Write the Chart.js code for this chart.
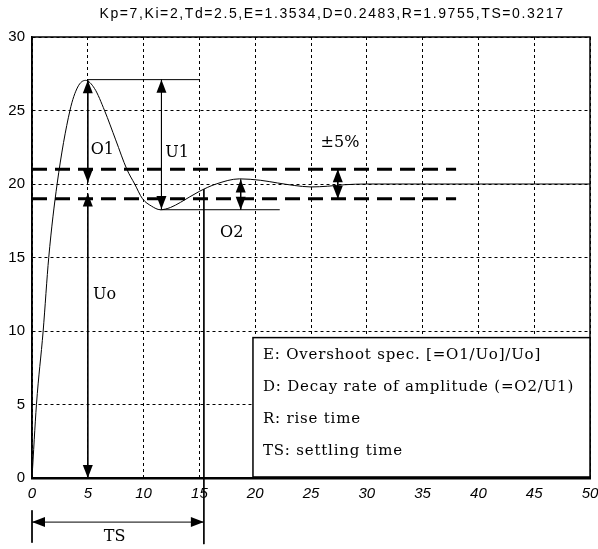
<!DOCTYPE html>
<html>
<head>
<meta charset="utf-8">
<script src="https://cdn.jsdelivr.net/npm/chart.js@4.4.0/dist/chart.umd.min.js"></script>
<style>
  html, body { margin: 0; padding: 0; background: #fff; }
  #wrap { width: 598px; height: 549px; }
</style>
</head>
<body>
<div id="wrap"><canvas id="chart"></canvas></div>
<script>
const titleText = 'Kp=7,Ki=2,Td=2.5,E=1.3534,D=0.2483,R=1.9755,TS=0.3217';

// step response
const timeS = [0, 0.4, 1.0, 1.5, 2.25, 3.4, 4.1, 4.8, 5.6, 6.5, 7.5, 8.5, 9.2, 9.9, 10.7, 11.5, 12.4, 13.3, 15, 16.5, 18.6, 20.5, 22, 23.5, 25, 26.5, 28, 30, 35, 40, 45, 50];
const response = [0, 5, 10, 15, 20, 25, 26.6, 27.05, 26.5, 25, 23, 21, 20, 19, 18.5, 18.25, 18.4, 18.75, 19.5, 20.0, 20.35, 20.25, 20.07, 19.9, 19.8, 19.85, 19.95, 20.0, 20.0, 20.0, 20.0, 20.0];

// +-5% band round the final value 20
const bandLevels = [21, 19];
const bandEnd = 38;

// thin guide lines [x1, y1, x2, y2]
const guideLines = [
  [5, 27.1, 15, 27.1],      // peak level
  [11.5, 18.25, 22.2, 18.25], // first trough level
  [15.4, 19.65, 15.4, -4.5],  // settling time marker
  [0, -2.2, 0, -4.4]          // start of TS span
];

// double headed arrows [x1, y1, x2, y2]
const arrows = [
  [5, 27.05, 5, 20.1],     // O1
  [5, 19.35, 5, 0],        // Uo
  [11.6, 27.1, 11.6, 18.3], // U1
  [18.7, 20.3, 18.7, 18.25], // O2
  [27.4, 21, 27.4, 19],    // +-5%
  [0, -3, 15.4, -3]        // TS
];

// labels [text, x, y]
const labels = [
  ['O1', 6.3, 22.3],
  ['U1', 13.0, 22.1],
  ['O2', 17.9, 16.7],
  ['Uo', 6.5, 12.45],
  ['±5%', 27.6, 22.8],
  ['TS', 7.4, -4.0]
];

// explanation box
const boxX = [19.8, 50];
const boxY = [0.07, 9.55];
const boxLines = [
  ['E: Overshoot spec. [=O1/Uo]/Uo]', 8.35],
  ['D: Decay rate of amplitude (=O2/U1)', 6.2],
  ['R: rise time', 4.0],
  ['TS: settling time', 1.8]
];

const lineSet = (pts, width, dash) => ({
  data: pts,
  borderColor: '#000',
  borderWidth: width,
  borderDash: dash || [],
  pointRadius: 0,
  fill: false,
  clip: false
});

const datasets = [];
datasets.push(Object.assign(lineSet(timeS.map((t, i) => ({x: t, y: response[i]})), 1), {cubicInterpolationMode: 'monotone'}));
bandLevels.forEach(v => datasets.push(lineSet([{x: 0, y: v}, {x: bandEnd, y: v}], 3, [15, 8])));
guideLines.forEach(g => datasets.push(lineSet([{x: g[0], y: g[1]}, {x: g[2], y: g[3]}], 1)));
arrows.forEach(a => datasets.push(lineSet([{x: a[0], y: a[1]}, {x: a[2], y: a[3]}], 1)));

function arrowHead(ctx, tx, ty, fx, fy) {
  const ang = Math.atan2(ty - fy, tx - fx);
  const len = 13, half = 5;
  ctx.beginPath();
  ctx.moveTo(tx, ty);
  ctx.lineTo(tx - len * Math.cos(ang) + half * Math.sin(ang), ty - len * Math.sin(ang) - half * Math.cos(ang));
  ctx.lineTo(tx - len * Math.cos(ang) - half * Math.sin(ang), ty - len * Math.sin(ang) + half * Math.cos(ang));
  ctx.closePath();
  ctx.fill();
}

const decorations = {
  id: 'decorations',
  beforeDatasetsDraw(chart) {
    const {ctx, chartArea: ca, scales: {x, y}} = chart;
    ctx.save();
    // frame
    ctx.strokeStyle = '#000';
    ctx.lineWidth = 1.5;
    ctx.strokeRect(ca.left, ca.top, ca.right - ca.left, ca.bottom - ca.top);
    // explanation box
    const bx1 = x.getPixelForValue(boxX[0]), bx2 = x.getPixelForValue(boxX[1]);
    const by1 = y.getPixelForValue(boxY[1]), by2 = y.getPixelForValue(boxY[0]);
    ctx.fillStyle = '#fff';
    ctx.fillRect(bx1, by1, bx2 - bx1, by2 - by1);
    ctx.strokeRect(bx1, by1, bx2 - bx1, by2 - by1);
    ctx.fillStyle = '#000';
    ctx.font = '15px "DejaVu Serif"';
    ctx.letterSpacing = '0.8px';
    ctx.textBaseline = 'middle';
    ctx.textAlign = 'left';
    boxLines.forEach(l => ctx.fillText(l[0], bx1 + 10, y.getPixelForValue(l[1])));
    ctx.restore();
  },
  afterDatasetsDraw(chart) {
    const {ctx, scales: {x, y}} = chart;
    ctx.save();
    ctx.fillStyle = '#000';
    arrows.forEach(a => {
      const x1 = x.getPixelForValue(a[0]), y1 = y.getPixelForValue(a[1]);
      const x2 = x.getPixelForValue(a[2]), y2 = y.getPixelForValue(a[3]);
      arrowHead(ctx, x1, y1, x2, y2);
      arrowHead(ctx, x2, y2, x1, y1);
    });
    ctx.font = '16px "DejaVu Serif"';
    ctx.textAlign = 'center';
    ctx.textBaseline = 'middle';
    labels.forEach(l => ctx.fillText(l[0], x.getPixelForValue(l[1]), y.getPixelForValue(l[2])));
    // title
    ctx.font = '14px "Liberation Sans"';
    ctx.letterSpacing = '1.6px';
    ctx.fillText(titleText, 332, 14);
    ctx.restore();
  }
};

new Chart(document.getElementById('chart').getContext('2d'), {
  type: 'line',
  data: {datasets: datasets},
  options: {
    responsive: true,
    maintainAspectRatio: false,
    animation: false,
    layout: {padding: {top: 37, right: 8, left: 0, bottom: 0}},
    plugins: {legend: {display: false}, tooltip: {enabled: false}, title: {display: false}},
    scales: {
      x: {
        type: 'linear',
        min: 0,
        max: 50,
        afterFit: s => { s.height = 71; s.paddingLeft = 0; s.paddingRight = 0; },
        ticks: {stepSize: 5, color: '#000', padding: 7, font: {family: 'Liberation Sans', size: 15, style: 'italic'}},
        grid: {color: '#000', lineWidth: 1, drawTicks: false},
        border: {display: true, color: '#000', width: 2.5, dash: [3, 3]}
      },
      y: {
        min: 0,
        max: 30,
        afterFit: s => { s.width = 32; },
        ticks: {stepSize: 5, color: '#000', padding: 7, font: {family: 'Liberation Sans', size: 15}},
        grid: {color: '#000', lineWidth: 1, drawTicks: false},
        border: {display: true, color: '#000', width: 1.5, dash: [3, 3]}
      }
    }
  },
  plugins: [decorations]
});
</script>
</body>
</html>
